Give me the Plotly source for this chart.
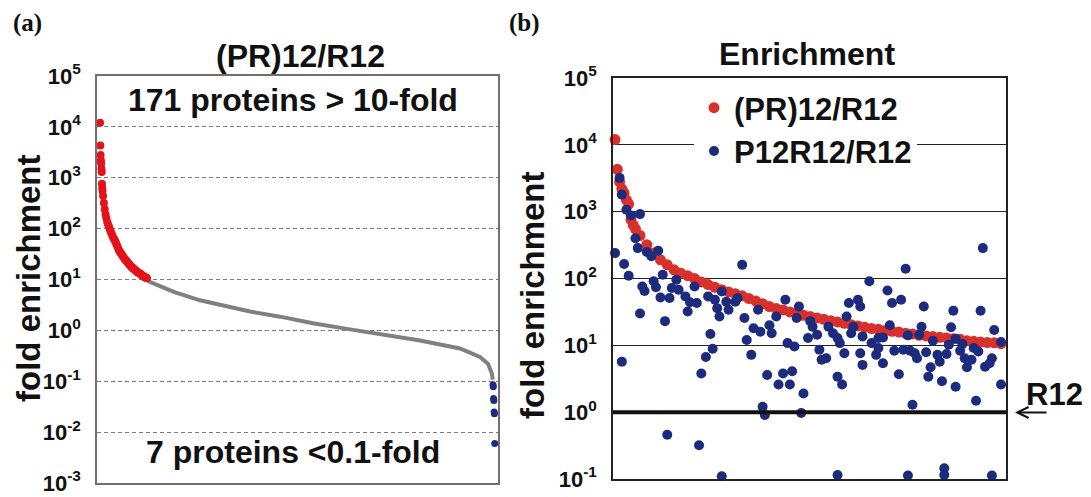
import plotly.graph_objects as go

W, H = 1091, 497

# ---------------- (a) ranked (PR)12/R12 fold enrichment ----------------
# proteins above 10-fold (rank, fold)
red_rank = [1, 2, 3, 4, 5, 6, 7, 8, 9, 10, 12, 15, 18, 21, 24, 27, 30, 33, 36, 39,
            42, 45, 48, 51, 54, 57, 60, 63, 66, 69, 72, 75, 78, 81, 84, 87, 90, 93,
            96, 99, 102, 105, 108, 111, 114, 117, 120, 123, 126, 129, 132, 135, 138,
            141, 144, 147, 150, 153, 156, 159, 162, 165, 168, 171]
red_fold = [12000, 4300, 2800, 2200, 1900, 1500, 1300, 760, 630, 550, 440, 320, 240,
            190, 160, 135, 120, 110, 100, 89, 81, 74, 68, 63, 59, 55, 50, 46, 42, 38,
            35.5, 33.9, 31.6, 30.2, 28.2, 26.9, 25.7, 24.5, 23.4, 22.4, 21.4, 20.4,
            19.5, 18.6, 17.8, 17.4, 16.6, 16.2, 15.8, 15.1, 14.8, 14.1, 13.8, 13.5,
            13.2, 12.9, 12.6, 12.3, 11.7, 11.5, 11.2, 11.0, 10.9, 10.6]

# remaining proteins between 10-fold and 0.1-fold
grey_rank = [172, 182, 218, 273, 363, 450, 544, 653, 772, 895, 1015, 1160, 1304,
             1377, 1406, 1420, 1423]
grey_fold = [9.6, 8.9, 7.4, 5.6, 3.9, 3.0, 2.35, 1.86, 1.38, 1.07, 0.83, 0.63, 0.44,
             0.30, 0.22, 0.14, 0.107]

# proteins below 0.1-fold
low_rank = [1424, 1425, 1426, 1427, 1428, 1429, 1430]
low_fold = [0.085, 0.078, 0.046, 0.042, 0.025, 0.023, 0.006]

# ---------------- (b) enrichment of the same 171 proteins ----------------
p12_rank = [3, 4, 6, 8, 12, 10, 11, 1, 5, 7, 15, 17, 20, 13, 14, 18, 19, 22, 21, 25,
            26, 28, 29, 32, 34, 37, 36, 33, 12, 23, 42, 45, 48, 46, 50, 51, 54, 55,
            47, 43, 44, 41, 39, 4, 24, 38, 48, 57, 58, 59,
            61, 64, 62, 65, 69, 70, 72, 76, 77, 80, 82, 81, 68, 73, 75, 78, 79, 84,
            66, 67, 83, 86, 87, 88, 90, 91, 94, 92, 95, 97, 99, 100, 102, 99, 101,
            103, 104, 108, 109, 106, 105, 110, 109, 110, 113, 114, 116, 117, 99,
            163, 129, 121, 123, 127, 137, 150, 162, 122, 119, 130, 135, 136, 149,
            141, 151, 154, 168, 171, 117, 119, 124, 128, 131, 133, 134, 138, 143,
            144, 140, 139, 145, 148, 147, 153, 155, 156, 158, 159, 161, 164, 166,
            167, 151, 160, 171, 126, 132, 130, 146, 146, 167]
p12_fold = [3200, 1800, 1070, 880, 920, 400, 285, 240, 165, 110, 250, 215, 260, 76,
            65, 91, 74, 114, 52, 51, 72, 96, 68, 54, 44, 43, 76, 32, 30, 23, 54, 48,
            64, 36, 45, 34, 45, 51, 27, 14.8, 8.9, 6.7, 3.8, 5.7, 0.46, 0.32, 0.11,
            160, 25.6, 12,
            7.2, 34, 18, 16, 20, 15.2, 27, 48, 10.8, 9.6, 38, 25.6, 3.6, 2.6, 3.8,
            2.6, 4.1, 1.9, 1.2, 0.91, 0.97, 12.9, 23, 19, 14.4, 8.6, 6.4, 6.1, 19,
            15.2, 12.9, 10.8, 7.6, 3.4, 2.6, 27, 43, 48, 38, 19, 15.2, 13.6, 7.6,
            5.1, 91, 10.8, 7.2, 12.9, 0.115,
            285, 140, 66, 43, 48, 38, 33, 33, 20, 13.1, 14.1, 14.4, 19, 18.6, 11.7,
            12.6, 10.5, 17, 11.2, 9.1, 5.4, 8.3, 8.6, 8.3, 7.6, 6.4, 7.9, 7.2, 5.7,
            4.7, 3.4, 2.9, 10.2, 7.4, 8.3, 6.4, 4.7, 6.1, 9.1, 8.1, 4.8, 5.4, 6.4,
            2.4, 1.48, 2.6, 3.7, 1.29, 0.113, 0.145, 0.115, 0.113]

decades_a = [-3, -2, -1, 0, 1, 2, 3, 4, 5]
decades_b = [-1, 0, 1, 2, 3, 4, 5]

RED_A = "#e3121b"
RED_B = "#d8302a"
NAVY = "#1d2b7e"
GREY = "#808080"
FONT = "Liberation Sans"


def px_x(x):
    return x / W


def px_y(y):
    return 1 - y / H


def tick_text(exps):
    return ["10<sup>%d</sup>" % e for e in exps]


fig = go.Figure()

# panel (a)
fig.add_trace(go.Scatter(x=grey_rank, y=grey_fold, mode="lines",
                         line=dict(color=GREY, width=4), showlegend=False,
                         xaxis="x", yaxis="y"))
fig.add_trace(go.Scatter(x=red_rank, y=red_fold, mode="markers",
                         marker=dict(color=RED_A, size=8), showlegend=False,
                         xaxis="x", yaxis="y"))
fig.add_trace(go.Scatter(x=low_rank, y=low_fold, mode="markers",
                         marker=dict(color=NAVY, size=7), showlegend=False,
                         cliponaxis=False, xaxis="x", yaxis="y"))

# panel (b)
fig.add_trace(go.Scatter(x=red_rank, y=red_fold,
                         mode="markers", name="(PR)12/R12",
                         marker=dict(color=RED_B, size=11),
                         cliponaxis=False, xaxis="x2", yaxis="y2"))
fig.add_trace(go.Scatter(x=p12_rank, y=p12_fold, mode="markers",
                         name="P12R12/R12", marker=dict(color=NAVY, size=10),
                         cliponaxis=False, xaxis="x2", yaxis="y2"))

tick_font = dict(family=FONT, size=22, color="#111", weight="bold")

fig.update_layout(
    width=W, height=H,
    margin=dict(l=0, r=0, t=0, b=0, autoexpand=False),
    paper_bgcolor="white", plot_bgcolor="white",
    showlegend=True,
    legend=dict(x=px_x(694), y=px_y(81), xanchor="left", yanchor="top",
                bgcolor="white", borderwidth=0, itemsizing="trace",
                font=dict(family=FONT, size=31, color="#111", weight="bold"),
                tracegroupgap=0),
    xaxis=dict(domain=[px_x(97), px_x(498)], range=[-10, 1442],
               showgrid=False, zeroline=False, showticklabels=False,
               automargin=False,
               showline=True, linecolor="#707070", linewidth=1.5, mirror=True),
    yaxis=dict(domain=[px_y(483), px_y(76)], type="log", range=[-3, 5],
               tickvals=[10.0 ** e for e in decades_a],
               ticktext=tick_text(decades_a), tickfont=tick_font,
               ticks="", ticklabelstandoff=10, automargin=False,
               showgrid=True, gridcolor="#7a7a7a", gridwidth=1.2,
               griddash="4px,3px", zeroline=False,
               showline=True, linecolor="#707070", linewidth=1.5, mirror=True),
    xaxis2=dict(domain=[px_x(613), px_x(1006)], range=[0.1, 173.2],
                anchor="y2", showgrid=False, zeroline=False,
                showticklabels=False, automargin=False,
                showline=True, linecolor="#222", linewidth=1.5, mirror=True),
    yaxis2=dict(domain=[px_y(479), px_y(78)], type="log", range=[-1, 5],
                anchor="x2",
                tickvals=[10.0 ** e for e in decades_b],
                ticktext=tick_text(decades_b), tickfont=tick_font,
                ticks="", ticklabelstandoff=10, automargin=False,
                showgrid=True, gridcolor="#222", gridwidth=1,
                zeroline=False,
                showline=True, linecolor="#222", linewidth=1.5, mirror=True),
)

# R12 baseline (fold = 1)
fig.add_shape(type="line", xref="x2 domain", yref="y2", x0=0, x1=1, y0=1, y1=1,
              line=dict(color="#111", width=4), layer="above")


def label(text, x, y, size, family=FONT, angle=0):
    fig.add_annotation(text=text, x=px_x(x), y=px_y(y), xref="paper",
                       yref="paper", showarrow=False, textangle=angle,
                       xanchor="center", yanchor="middle",
                       font=dict(family=family, size=size, color="#111",
                                 weight="bold"))


label("(a)", 27, 23, 25, family="Liberation Serif")
label("(b)", 524, 23, 25, family="Liberation Serif")
label("(PR)12/R12", 300, 56, 32)
label("Enrichment", 807, 54, 32)
label("171 proteins &gt; 10-fold", 293, 100, 32)
label("7 proteins &lt;0.1-fold", 293, 452, 32)
label("fold enrichment", 28, 278, 33, angle=-90)
label("fold enrichment", 532, 295, 33, angle=-90)
label("R12", 1054, 394, 31)

# arrow pointing at the R12 baseline
fig.add_annotation(text="", x=px_x(1015), y=px_y(412.5), xref="paper",
                   yref="paper", showarrow=True, ax=33, ay=0,
                   arrowhead=5, arrowwidth=2.2, arrowsize=1, arrowcolor="#111")

fig.write_html("out.html")
